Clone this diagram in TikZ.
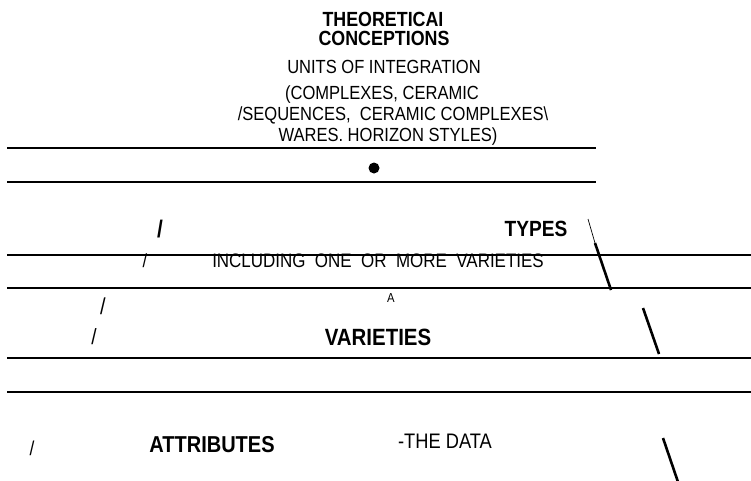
\documentclass[tikz,border=0pt]{standalone}
\usepackage{fontspec}
\setmainfont{Liberation Sans}[FakeStretch=0.87]
\begin{document}
\begin{tikzpicture}[x=1pt, y=-1pt,
    % Estilos
    txt/.style={
        font=\fontsize{#1}{#1}\selectfont, inner sep=0pt, anchor=base, text=black
    },
    txt/.default=19,
    hdr/.style={
        font=\fontsize{#1}{#1}\selectfont\bfseries, inner sep=0pt, anchor=base, text=black
    },
    hdr/.default=20.5,
    rule/.style={
        line width=1.2pt, black
    },
    stroke/.style={
        line width=#1, black, line cap=butt
    }
]
\useasboundingbox (0,0) rectangle (751,480);

% =============================================
% CONCEPCIONES TEORICAS
% =============================================
\node[hdr] (theo) at (383, 26) {THEORETICAI};
\node[hdr] (conc) at (384, 45) {CONCEPTIONS};
\node[txt] (units) at (384, 73) {UNITS OF INTEGRATION};
\node[txt] (cplx) at (382, 99) {(COMPLEXES, CERAMIC};
\node[txt] (seq) at (393, 120) {/SEQUENCES,\ \ CERAMIC COMPLEXES\textbackslash};
\node[txt] (wares) at (388, 141) {WARES. HORIZON STYLES)};

\draw[rule] (7, 148) -- (596, 148);
\fill (374, 168) circle (5.5);
\draw[rule] (7, 182) -- (596, 182);

% =============================================
% TIPOS
% =============================================
\node[hdr=24] (slA) at (160, 237) {/};
\node[hdr=22] (types) at (536, 236) {TYPES};
\node[txt] (slB) at (145, 267) {/};
\node[txt=19.5] (incl) at (378, 267) {INCLUDING\ \ ONE\ \ OR\ \ MORE\ \ VARIETIES};

\draw[stroke=0.7pt] (588, 219) -- (595, 243);
\draw[stroke=2.6pt] (595, 243) -- (611, 290);

\draw[rule] (7, 255) -- (751, 255);
\draw[rule] (7, 288) -- (751, 288);

% =============================================
% VARIEDADES
% =============================================
\node[txt=13] (amark) at (391, 302) {A};
\node[txt=23] (slC) at (103, 314) {/};
\node[txt=22] (slD) at (94, 344) {/};
\node[hdr=23.5] (vars) at (378, 345.5) {VARIETIES};

\draw[stroke=2.6pt] (643, 308) -- (659, 354);

\draw[rule] (7, 358) -- (751, 358);
\draw[rule] (7, 392) -- (751, 392);

% =============================================
% ATRIBUTOS
% =============================================
\node[txt=20] (slE) at (32, 455) {/};
\node[hdr=23] (attr) at (212, 452) {ATTRIBUTES};
\node[txt=21] (data) at (445, 448) {-THE DATA};

\draw[stroke=2.6pt] (663, 438) -- (678, 482);

\end{tikzpicture}
\end{document}
